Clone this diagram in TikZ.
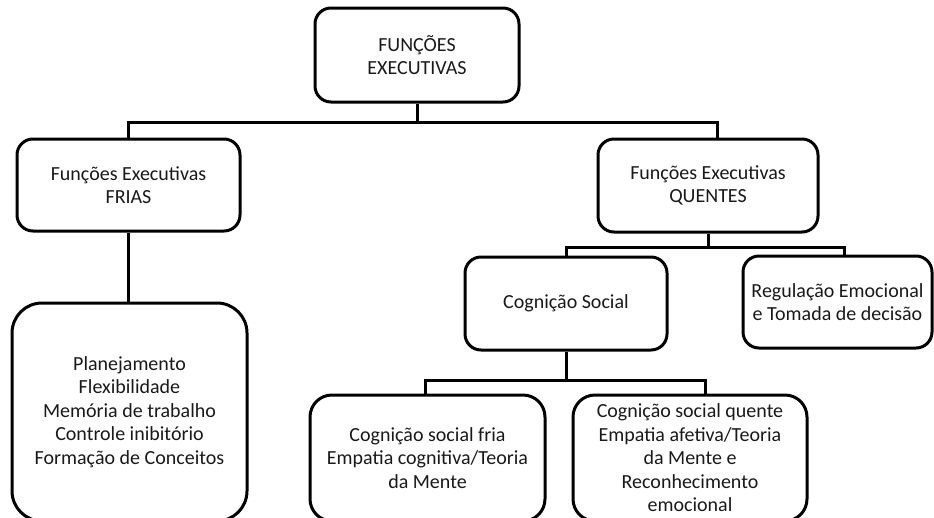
\documentclass[tikz,border=0pt]{standalone}
\usepackage{fontspec}
\setmainfont{Carlito}
\tikzset{
caixa/.style={draw,line width=3pt,rounded corners=16pt,align=center,text=black!90,font=\fontsize{20}{23.5}\selectfont,inner sep=0pt},
liga/.style={line width=3pt}
}

\begin{document}
\begin{tikzpicture}[x=1pt,y=-1pt]
\useasboundingbox (0,0) rectangle (934,517);
\clip (0,0) rectangle (934,517);

\node (topo) [caixa,minimum width=204pt,minimum height=94pt] at (417,55) {FUNÇÕES\\EXECUTIVAS};
\node (frias) [caixa,minimum width=223pt,minimum height=92pt] at (128.5,185) {Funções Executivas\\FRIAS};
\node (quentes) [caixa,minimum width=220pt,minimum height=93pt] at (708,185.5) {Funções Executivas\\QUENTES};
\node (cogsoc) [caixa,minimum width=202pt,minimum height=93pt] at (566,303.5) {Cognição Social};
\node (regul) [caixa,minimum width=189pt,minimum height=92pt] at (837.5,302) {Regulação Emocional\\e Tomada de decisão};
\node (plan) [caixa,rounded corners=30pt,minimum width=235pt,minimum height=218pt] at (129.5,412) {Planejamento\\Flexibilidade\\Memória de trabalho\\Controle inibitório\\Formação de Conceitos};
\node (fria) [caixa,rounded corners=22pt,minimum width=235pt,minimum height=126pt] at (427.5,458) {Cognição social fria\\Empatia cognitiva/Teoria\\da Mente};
\node (quente) [caixa,rounded corners=22pt,minimum width=234pt,minimum height=126pt] at (690,458) {Cognição social quente\\Empatia afetiva/Teoria\\da Mente e\\Reconhecimento\\emocional};

\coordinate (b1) at (0,122);
\coordinate (b2) at (0,247);
\coordinate (b3) at (0,380);

\draw[liga] (topo.south) -- (topo.south |- b1) -| (frias.north);
\draw[liga] (topo.south |- b1) -| ([xshift=9pt]quentes.north);
\draw[liga] (frias.south) -- (frias.south |- plan.north);
\draw[liga] (quentes.south) -- (quentes.south |- b2) -| (cogsoc.north);
\draw[liga] (quentes.south |- b2) -| ([xshift=6.5pt]regul.north);
\draw[liga] (cogsoc.south) -- (cogsoc.south |- b3) -| ([xshift=-2.5pt]fria.north);
\draw[liga] (cogsoc.south |- b3) -| ([xshift=15pt]quente.north);
\end{tikzpicture}
\end{document}
